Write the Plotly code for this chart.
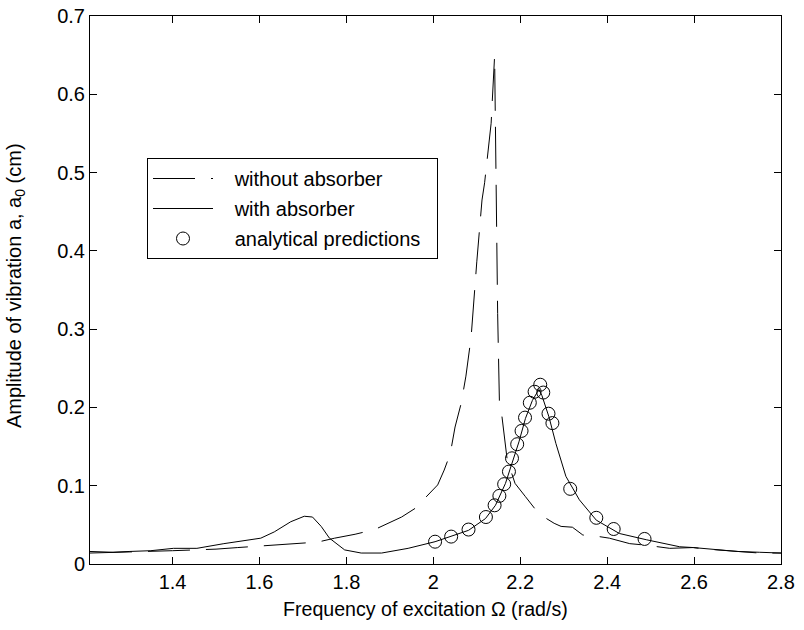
import plotly.graph_objects as go

# ---- data ----
x_without = [1.21, 1.30, 1.35, 1.40, 1.45, 1.50, 1.55, 1.60, 1.65, 1.70, 1.734, 1.773, 1.82, 1.865,
             1.904, 1.927, 1.958, 1.985, 2.01, 2.025, 2.039, 2.05, 2.064, 2.075, 2.087, 2.10, 2.112,
             2.118, 2.133, 2.141, 2.1425, 2.145, 2.148, 2.152, 2.158, 2.17, 2.188, 2.212, 2.243,
             2.278, 2.294, 2.32, 2.344, 2.37, 2.405, 2.452, 2.49, 2.544, 2.598, 2.629, 2.675,
             2.72, 2.75, 2.8]
y_without = [0.014, 0.015, 0.016, 0.017, 0.018, 0.019, 0.021, 0.023, 0.025, 0.027, 0.028, 0.033, 0.038, 0.044,
             0.054, 0.060, 0.071, 0.086, 0.101, 0.12, 0.141, 0.175, 0.205, 0.24, 0.29, 0.386, 0.465,
             0.487, 0.563, 0.649, 0.58, 0.446, 0.32, 0.209, 0.188, 0.133, 0.103, 0.086, 0.064,
             0.052, 0.048, 0.047, 0.037, 0.036, 0.033, 0.026, 0.024, 0.020, 0.021, 0.019, 0.017,
             0.0145, 0.014, 0.014]

x_with = [1.21, 1.263, 1.30, 1.35, 1.402, 1.456, 1.518, 1.58, 1.603, 1.634, 1.672, 1.703, 1.722,
          1.742, 1.761, 1.796, 1.834, 1.881, 1.942, 2.004, 2.041, 2.081, 2.12, 2.143, 2.166, 2.181,
          2.197, 2.212, 2.228, 2.243, 2.25, 2.266, 2.282, 2.305, 2.336, 2.375, 2.428, 2.49, 2.567,
          2.598, 2.65, 2.7, 2.75, 2.8]
y_with = [0.016, 0.015, 0.016, 0.017, 0.020, 0.020, 0.026, 0.031, 0.033, 0.041, 0.054, 0.061, 0.060,
          0.048, 0.033, 0.018, 0.014, 0.014, 0.020, 0.0285, 0.035, 0.043, 0.058, 0.075, 0.103, 0.129,
          0.156, 0.186, 0.209, 0.223, 0.215, 0.188, 0.154, 0.112, 0.082, 0.056, 0.039, 0.031, 0.022,
          0.021, 0.018, 0.016, 0.015, 0.014]

x_pred = [2.004, 2.041, 2.081, 2.121, 2.141, 2.152, 2.163, 2.174, 2.181, 2.193, 2.203, 2.211,
          2.222, 2.233, 2.246, 2.253, 2.265, 2.274, 2.315, 2.375, 2.415, 2.486]
y_pred = [0.0285, 0.035, 0.044, 0.060, 0.075, 0.087, 0.102, 0.118, 0.135, 0.153, 0.170, 0.187,
          0.206, 0.220, 0.229, 0.219, 0.192, 0.180, 0.096, 0.059, 0.0447, 0.032]

x_ticks = [1.4, 1.6, 1.8, 2.0, 2.2, 2.4, 2.6, 2.8]
x_tick_labels = ["1.4", "1.6", "1.8", "2", "2.2", "2.4", "2.6", "2.8"]
y_ticks = [0, 0.1, 0.2, 0.3, 0.4, 0.5, 0.6, 0.7]
y_tick_labels = ["0", "0.1", "0.2", "0.3", "0.4", "0.5", "0.6", "0.7"]

series_names = ["without absorber", "with absorber", "analytical predictions"]

FONT = "Liberation Sans, Arial, Helvetica, sans-serif"
FS = 20
NB = "\u00a0"

fig = go.Figure()
fig.add_trace(go.Scatter(x=x_without, y=y_without, mode="lines", name=NB * 3 + series_names[0],
                         legendgroup="a",
                         line=dict(color="black", width=1, dash="42px,16px")))
fig.add_trace(go.Scatter(x=x_with, y=y_with, mode="lines", name=NB * 3 + series_names[1],
                         legendgroup="b",
                         line=dict(color="black", width=1)))
fig.add_trace(go.Scatter(x=x_pred, y=y_pred, mode="markers", name=NB * 3 + series_names[2] + NB * 2,
                         legendgroup="c",
                         marker=dict(symbol="circle-open", size=13, color="black",
                                     line=dict(color="black", width=1))))

axis_common = dict(showgrid=False, zeroline=False, showline=True, linecolor="black", linewidth=1,
                   mirror="ticks", ticks="inside", ticklen=7, tickcolor="black", tickwidth=1,
                   automargin=False,
                   tickfont=dict(family=FONT, size=FS, color="black"))

fig.update_xaxes(range=[1.21, 2.8], tickvals=x_ticks, ticktext=x_tick_labels, **axis_common)
fig.update_yaxes(range=[0, 0.7], tickvals=y_ticks, ticktext=y_tick_labels, **axis_common)

fig.update_layout(
    width=804, height=630,
    margin=dict(l=90, r=23, t=16, b=66, autoexpand=False),
    paper_bgcolor="white", plot_bgcolor="white",
    font=dict(family=FONT, size=FS, color="black"),
    showlegend=True,
    legend=dict(x=(147 - 90) / 691, y=(564 - 158) / 548, xanchor="left", yanchor="top",
                bordercolor="black", borderwidth=1, bgcolor="white",
                font=dict(family=FONT, size=FS, color="black"),
                itemwidth=60, tracegroupgap=1),
    annotations=[
        dict(text="Frequency of excitation \u03a9 (rad/s)", xref="paper", yref="paper",
             x=(425 - 90) / 691, y=-(622 - 564) / 548, xanchor="center", yanchor="bottom",
             showarrow=False, font=dict(family=FONT, size=19.6, color="black")),
        dict(text="Amplitude of vibration a, a<sub>0</sub> (cm)", xref="paper", yref="paper",
             x=-(90 - 15) / 691, y=(564 - 286) / 548, xanchor="center", yanchor="middle",
             textangle=-90, showarrow=False, font=dict(family=FONT, size=FS, color="black")),
    ],
)

fig.write_html("out.html", config={"displayModeBar": False},
               post_script="document.body.style.margin='0';")
